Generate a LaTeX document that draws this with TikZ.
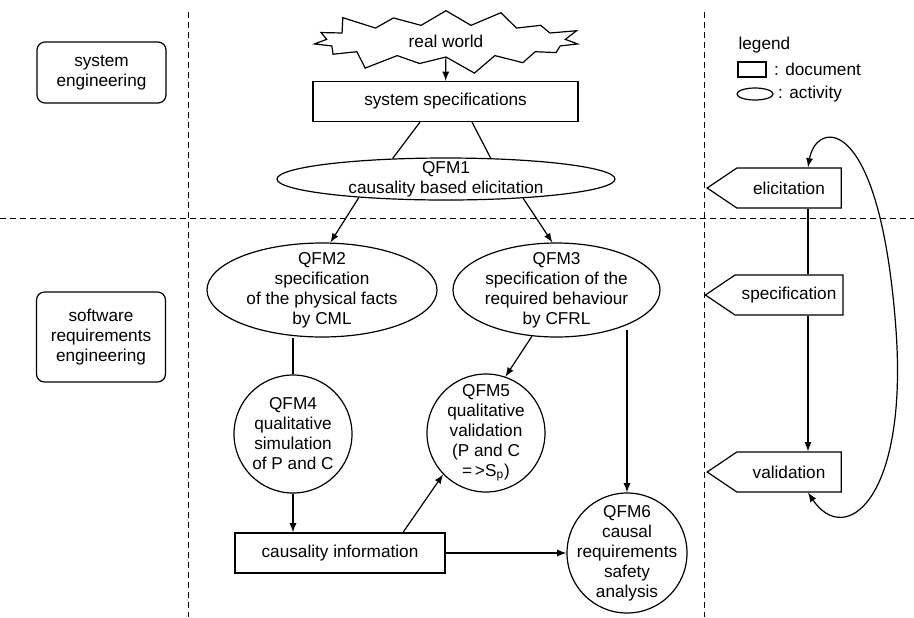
\documentclass[tikz,border=0pt]{standalone}
\usepackage{fontspec}
\setmainfont{Liberation Sans}
\usetikzlibrary{shapes.geometric,shapes.symbols,shapes.misc}
\usetikzlibrary{calc,positioning}

\begin{document}
\begin{tikzpicture}[x=0.5pt,y=-0.5pt,>=latex,line width=0.6pt,
        font=\fontsize{8.6}{10}\selectfont,
        area/.style={draw,rounded corners=4pt,align=center,minimum width=64.5pt},
        doc/.style={draw,rectangle,minimum height=20pt},
        activity/.style={draw,ellipse,inner sep=0pt},
        txt/.style={align=center,inner sep=0pt},
        phase/.style={draw,signal,signal to=west,signal pointer angle=68,minimum width=67pt,minimum height=20pt},
        sep/.style={dash pattern=on 3pt off 2pt,line width=0.5pt}]

            \useasboundingbox (0,0) rectangle (914,617);

            \foreach \x in {188,704}{
                \draw[sep] (\x,12) -- (\x,617);
            }
            \draw[sep] (0,218) -- (914,218);

            \node[area,minimum height=30.5pt] (sysEng) at (101.5,72.5) {system\\engineering};
            \node[area,minimum height=45pt] (swEng) at (101,337) {software\\requirements\\engineering};

            \node[draw,starburst,starburst points=15,starburst point height=10pt,minimum width=140pt,minimum height=36pt,inner sep=0pt] (world) at (446,41) {real world};
            \node[doc,minimum width=132.5pt] (sysSpec) at (445.5,101.5) {system specifications};
            \node[activity,minimum width=169pt,minimum height=21pt,label={[txt]center:QFM1\\causality based elicitation}] (qfm1) at (446,179) {};

            \node[activity,minimum width=115pt,minimum height=47pt,label={[txt]center:QFM2\\specification\\of the physical facts\\by CML}] (qfm2) at (322,290) {};
            \node[activity,minimum width=103.5pt,minimum height=47pt,label={[txt]center:QFM3\\specification of the\\required behaviour\\by CFRL}] (qfm3) at (556.5,290) {};

            \node[activity,circle,minimum size=59pt,label={[txt]center:QFM4\\qualitative\\simulation\\of P and C}] (qfm4) at (293,434) {};
            \node[activity,circle,minimum size=59pt,label={[txt]center:QFM5\\qualitative\\validation\\(P and C\\=\,>S\textsubscript{p})}] (qfm5) at (486,433) {};
            \node[activity,circle,minimum size=60pt,label={[txt]center:QFM6\\causal\\requirements\\safety\\analysis}] (qfm6) at (627,553) {};

            \node[doc,minimum width=105pt] (cause) at (340,553) {causality information};

            \foreach \n/ \t/ \y in {eli/elicitation/188,spec/specification/295,vali/validation/472}{
                \node[phase] (\n) at (789,\y) {\t};
            }

            \node[anchor=west,inner sep=0pt] (legend) at (738,45) {legend};
            \node[draw,minimum width=14pt,minimum height=7.5pt,inner sep=0pt] (legDoc) at (752,69.5) {};
            \node[inner sep=0pt,right=3.5pt of legDoc] (legDocTxt) {: document};
            \node[draw,ellipse,minimum width=18pt,minimum height=6pt,inner sep=0pt] (legAct) at (755,94) {};
            \node[inner sep=0pt,right=2pt of legAct] (legActTxt) {: activity};

            \draw[->] (world) -- (sysSpec);
            \draw ([xshift=-12.75pt]sysSpec.south) -- (qfm1.159);
            \draw ([xshift=13.25pt]sysSpec.south) -- (qfm1.25);
            \draw[->] (qfm1.192) -- (qfm2.80);
            \draw[->] (qfm1.346) -- (qfm3.95);
            \draw (qfm4) -- (qfm4 |- qfm2.south);
            \draw[->] (qfm3.242) -- (qfm5.71);
            \draw[->] (qfm3.-36 -| qfm6) -- (qfm6);
            \draw[->] (qfm4) -- (qfm4 |- cause.north);
            \draw[->] ([xshift=31.5pt]cause.north) -- (qfm5.224);
            \draw[->] (cause) -- (qfm6);

            \draw ([xshift=9.5pt]eli.south) -- ([xshift=9.5pt]spec.north);
            \draw[->] ([xshift=9.5pt]spec.south) -- ([xshift=9.5pt]vali.north);
            \coordinate (turn) at (896,330);
            \draw[<->] ([xshift=9.5pt]eli.north) .. controls (816,120) and (880,110) .. (turn)
                .. controls (908,500) and (845,548) .. ([xshift=9.5pt]vali.south);

    \end{tikzpicture}
\end{document}
